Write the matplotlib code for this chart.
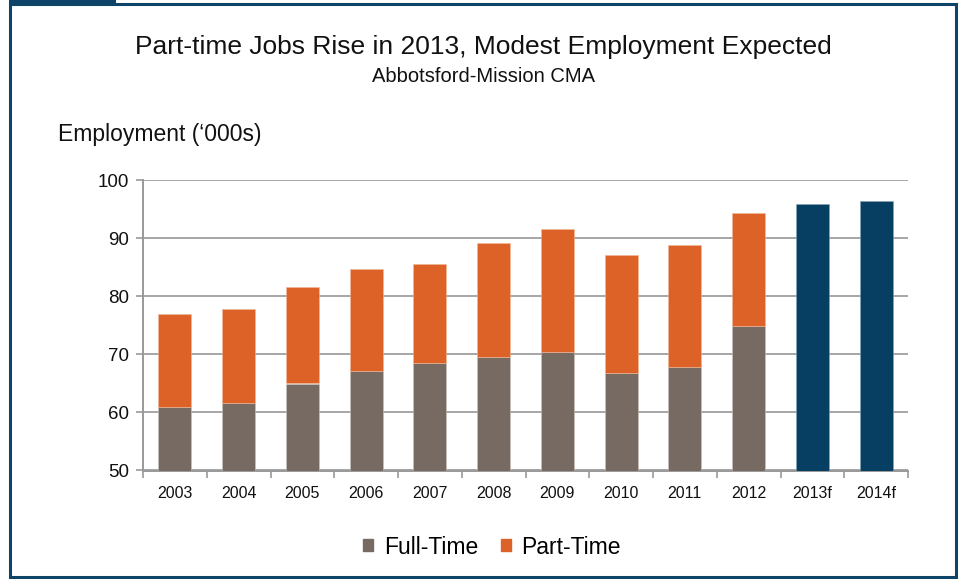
import matplotlib
matplotlib.use("Agg")
import matplotlib.pyplot as plt
from matplotlib.patches import Rectangle
import numpy as np

plt.rcParams['font.family'] = ['Liberation Sans', 'DejaVu Sans']

categories = ["2003", "2004", "2005", "2006", "2007", "2008", "2009", "2010", "2011", "2012", "2013f", "2014f"]
full_time = [61.0, 61.6, 65.0, 67.2, 68.5, 69.5, 70.4, 66.8, 67.8, 74.9, None, None]
total = [76.9, 77.9, 81.7, 84.8, 85.6, 89.2, 91.7, 87.2, 88.9, 94.4, 95.9, 96.5]
forecast_total = [None] * 10 + [95.9, 96.5]

BASE = 50
c_ft = "#776A62"
c_pt = "#DC6227"
c_fc = "#073F63"
c_frame = "#0D4468"

fig = plt.figure(figsize=(9.59, 5.79), dpi=100)
ax = fig.add_axes([143/959, 1 - 470.5/579, (908-143)/959, (470.5-180.5)/579])

x = np.arange(len(categories))
w = 0.52
for i in range(len(categories)):
    if full_time[i] is not None:
        ax.bar(x[i], full_time[i] - BASE, bottom=BASE, width=w, color=c_ft, edgecolor="#c9c2bd", linewidth=0.4, zorder=3)
        ax.bar(x[i], total[i] - full_time[i], bottom=full_time[i], width=w, color=c_pt, edgecolor="#f0b89a", linewidth=0.4, zorder=3)
    else:
        ax.bar(x[i], forecast_total[i] - BASE, bottom=BASE, width=w, color=c_fc, edgecolor="#8aa4b8", linewidth=0.4, zorder=3)

ax.set_xlim(-0.5, len(categories) - 0.5)
ax.set_ylim(50, 100)
ax.set_yticks([50, 60, 70, 80, 90, 100])
ax.set_xticks(x)
ax.set_xticklabels(categories, fontsize=11.5, color="#111111")
ax.set_xticks(np.arange(-0.5, len(categories)), minor=True)
ax.tick_params(axis='x', which='major', length=0, pad=11)
ax.tick_params(axis='x', which='minor', length=5, width=1.2, color="#999999", direction='out')
ax.tick_params(axis='y', length=5, width=1.2, color="#999999", labelsize=13.5, labelcolor="#111111", pad=5, direction='out')
ax.grid(axis='y', color="#a6a6a6", linewidth=1.4, zorder=0)
for s in ['top', 'right']:
    ax.spines[s].set_visible(False)
for s in ['left', 'bottom']:
    ax.spines[s].set_color("#999999")
    ax.spines[s].set_linewidth(1.4)

fig.text(483/959, 1 - 47/579, "Part-time Jobs Rise in 2013, Modest Employment Expected", ha='center', va='center', fontsize=19, color="#111111")
fig.text(483/959, 1 - 76/579, "Abbotsford-Mission CMA", ha='center', va='center', fontsize=14.5, color="#111111")
fig.text(58/959, 1 - 135/579, "Employment (\u2018000s)", ha='left', va='center', fontsize=16.5, color="#111111")

handles = [Rectangle((0, 0), 1, 1, color=c_ft), Rectangle((0, 0), 1, 1, color=c_pt)]
fig.legend(handles, ["Full-Time", "Part-Time"], loc='center', bbox_to_anchor=(492/959, 1 - 547/579), ncol=2, frameon=False,
           fontsize=16.5, handlelength=0.45, handleheight=0.45, handletextpad=0.45, columnspacing=1.0)

# frame
fig.patches.append(Rectangle((10/959, 1 - 577/579), (956-10)/959, (577-4)/579, transform=fig.transFigure,
                             fill=False, edgecolor=c_frame, linewidth=2.2))
fig.patches.append(Rectangle((9/959, 1 - 4/579), (116-9)/959, 4/579, transform=fig.transFigure,
                             facecolor=c_frame, edgecolor='none'))

fig.savefig("out.png", dpi=100)
